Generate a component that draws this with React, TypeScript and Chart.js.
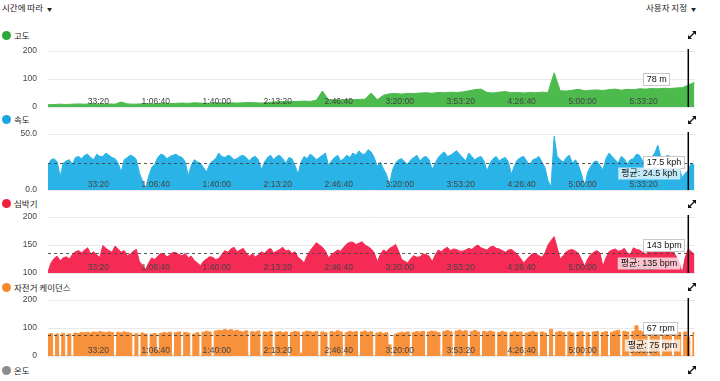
import React, { useEffect, useRef } from "react";
import { Chart, registerables } from "chart.js";

Chart.register(...registerables);

// ---------- data ----------
const X_MAX = 21220; // seconds shown
const CURSOR_T = 21000; // hovered time
const COARSE_STEP = 200; // seconds between altitude samples
const FINE_STEP = 100; // seconds between speed / heart-rate / cadence samples

const tickSeconds = [2000, 4000, 6000, 8000, 10000, 12000, 14000, 16000, 18000, 20000];
const tickLabels = ["33:20", "1:06:40", "1:40:00", "2:13:20", "2:46:40", "3:20:00", "3:53:20", "4:26:40", "5:00:00", "5:33:20"];

// altitude (m), every 200 s
const altitude = [
  8, 9, 10, 9, 10, 11, 10, 12, 11, 10,
  11, 10, 18, 11, 10, 11, 12, 11, 12, 13,
  12, 13, 14, 13, 15, 14, 13, 14, 15, 14,
  15, 14, 15, 16, 15, 14, 16, 18, 19, 20,
  19, 20, 21, 20, 24, 57, 25, 26, 25, 27,
  26, 27, 28, 50, 26, 42, 47, 48, 46, 49,
  48, 50, 51, 49, 52, 51, 53, 52, 54, 58,
  62, 64, 52, 50, 53, 55, 51, 52, 50, 52,
  51, 53, 52, 122, 58, 57, 60, 63, 58, 60,
  61, 59, 62, 64, 60, 63, 62, 65, 64, 66,
  65, 67, 66, 68, 69, 78, 88,
];

// speed (kph), every 100 s
const speed = [
  22, 27, 28, 25, 12, 24, 26, 27, 23, 29,
  30, 28, 31, 32, 29, 27, 32, 30, 30, 33,
  31, 29, 28, 24, 16, 27, 29, 31, 30, 27,
  15, 8, 1, 12, 20, 23, 29, 32, 31, 28,
  30, 31, 32, 30, 29, 25, 13, 22, 27, 25,
  24, 20, 16, 23, 26, 28, 33, 30, 29, 31,
  30, 27, 28, 30, 31, 29, 26, 29, 30, 27,
  18, 25, 29, 31, 27, 30, 31, 28, 24, 29,
  28, 22, 14, 25, 30, 28, 32, 30, 27, 29,
  31, 33, 22, 26, 29, 31, 26, 28, 31, 29,
  33, 31, 35, 32, 32, 36, 34, 29, 21, 25,
  19, 14, 5, 18, 24, 27, 28, 25, 23, 27,
  29, 31, 26, 29, 30, 27, 18, 24, 29, 32,
  34, 30, 31, 33, 35, 32, 29, 26, 33, 30,
  27, 29, 30, 26, 17, 24, 28, 30, 26, 28,
  29, 25, 14, 22, 27, 29, 30, 26, 22, 27,
  28, 30, 25, 20, 8, 3, 48, 30, 27, 25,
  29, 31, 24, 27, 22, 14, 3, 16, 21, 25,
  26, 22, 18, 28, 33, 30, 27, 24, 30, 28,
  23, 27, 28, 32, 31, 26, 25, 29, 29, 33,
  40, 29, 27, 31, 30, 27, 26, 20, 11, 15,
  17.5, 24, 22,
];

// heart rate (bpm), every 100 s
const heartRate = [
  102, 118, 126, 130, 122, 127, 129, 125, 133, 138,
  140, 136, 141, 145, 134, 138, 132, 128, 149, 144,
  140, 137, 148, 143, 137, 140, 131, 134, 139, 142,
  120, 114, 106, 118, 127, 124, 130, 135, 134, 129,
  132, 137, 136, 133, 131, 135, 127, 130, 122, 118,
  113, 121, 125, 129, 128, 124, 126, 133, 140, 137,
  143, 146, 138, 141, 144, 136, 130, 134, 129, 132,
  138, 135, 141, 144, 136, 139, 142, 146, 139, 141,
  135, 138, 128, 124, 118, 131, 140, 147, 154, 150,
  146, 139, 127, 133, 137, 141, 139, 146, 152, 155,
  155, 151, 153, 156, 150, 147, 143, 136, 120, 133,
  141, 138, 144, 147, 151, 139, 124, 121, 118, 126,
  131, 128, 129, 134, 133, 130, 120, 132, 141, 138,
  143, 146, 140, 143, 142, 139, 139, 141, 144, 142,
  147, 150, 145, 143, 141, 146, 148, 144, 143, 140,
  137, 141, 142, 138, 133, 126, 118, 124, 130, 135,
  134, 131, 128, 136, 150, 158, 165, 145, 125, 131,
  138, 141, 142, 139, 135, 124, 112, 125, 133, 137,
  140, 136, 112, 127, 138, 141, 143, 139, 140, 144,
  136, 133, 145, 142, 141, 137, 134, 138, 140, 143,
  144, 140, 137, 141, 142, 139, 130, 118, 100, 128,
  143, 138, 133,
];

// bike cadence (rpm), every 100 s
const cadence = [
  78, 80, 0, 79, 0, 81, 0, 79, 0, 82,
  80, 84, 83, 85, 82, 86, 84, 87, 85, 83,
  86, 84, 0, 85, 83, 86, 84, 82, 0, 80,
  0, 82, 79, 0, 78, 80, 20, 81, 84, 82,
  85, 0, 83, 86, 0, 84, 82, 0, 79, 83,
  0, 85, 88, 86, 0, 89, 92, 90, 95, 91,
  94, 89, 92, 88, 86, 90, 0, 87, 85, 89,
  0, 86, 84, 88, 0, 85, 87, 83, 86, 0,
  84, 88, 86, 10, 85, 89, 87, 84, 88, 0,
  86, 83, 0, 87, 85, 90, 86, 0, 84, 88,
  85, 87, 0, 86, 89, 84, 87, 0, 82, 85,
  80, 83, 40, 0, 78, 82, 85, 83, 86, 0,
  84, 87, 85, 88, 0, 86, 89, 87, 84, 0,
  88, 91, 87, 0, 89, 92, 88, 90, 0, 87,
  91, 86, 0, 88, 85, 89, 86, 0, 84, 88,
  85, 0, 83, 87, 84, 86, 0, 82, 85, 88,
  84, 0, 86, 82, 0, 95, 0, 85, 88, 84,
  0, 86, 82, 0, 85, 87, 0, 83, 0, 86,
  88, 0, 84, 87, 0, 85, 89, 92, 0, 88,
  86, 0, 88, 108, 90, 87, 85, 0, 84, 88,
  86, 0, 85, 89, 83, 0, 87, 84, 0, 86,
  67, 0, 84,
];

const speedAvg = 24.5;
const heartRateAvg = 135;
const cadenceAvg = 75;

// ---------- panel setup ----------
type PanelCfg = {
  key: string;
  values: number[];
  step: number;
  min: number;
  max: number;
  stepSize: number;
  decimals: number;
  color: string;
  stepped: boolean;
  valueText: string;
  avg: number | null;
  avgText: string | null;
  canvasTop: number;
};

const TICK_FONT = '"Liberation Sans", Arial, sans-serif';
const BOX_FONT = '9px "Liberation Sans", "Noto Sans CJK KR", Arial, sans-serif';

const panels: PanelCfg[] = [
  { key: "alt", values: altitude, step: COARSE_STEP, min: 0, max: 200, stepSize: 100, decimals: 0, color: "#4cba4c", stepped: false, valueText: "78 m", avg: null, avgText: null, canvasTop: 45 },
  { key: "spd", values: speed, step: FINE_STEP, min: 0, max: 50, stepSize: 50, decimals: 1, color: "#29b3e6", stepped: false, valueText: "17.5 kph", avg: speedAvg, avgText: "평균: 24.5 kph", canvasTop: 128 },
  { key: "hr", values: heartRate, step: FINE_STEP, min: 100, max: 200, stepSize: 50, decimals: 0, color: "#f52a55", stepped: false, valueText: "143 bpm", avg: heartRateAvg, avgText: "평균: 135 bpm", canvasTop: 211 },
  { key: "cad", values: cadence, step: FINE_STEP, min: 0, max: 200, stepSize: 100, decimals: 0, color: "#f7913c", stepped: true, valueText: "67 rpm", avg: cadenceAvg, avgText: "평균: 75 rpm", canvasTop: 294 },
];

const titles = [
  { text: "고도", dot: "#2fa83a", y: 35 },
  { text: "속도", dot: "#1aa6e2", y: 119.5 },
  { text: "심박기", dot: "#f0203d", y: 203.5 },
  { text: "자전거 케이던스", dot: "#f5892c", y: 287 },
  { text: "온도", dot: "#8c8c8c", y: 370 },
];

function makeOverlay(p: PanelCfg) {
  return {
    id: "overlay_" + p.key,
    afterDatasetsDraw(chart: any) {
      const { ctx, chartArea: a, scales } = chart;
      const xs = scales.x;
      const ys = scales.y;
      ctx.save();

      // average dashed line
      let avgY = 0;
      if (p.avg != null) {
        avgY = Math.round(ys.getPixelForValue(p.avg)) + 0.5;
        ctx.setLineDash([3, 3]);
        ctx.strokeStyle = "rgba(70,70,70,0.9)";
        ctx.lineWidth = 1;
        ctx.beginPath();
        ctx.moveTo(a.left, avgY);
        ctx.lineTo(a.right, avgY);
        ctx.stroke();
        ctx.setLineDash([]);
      }

      // time labels inside the plot
      ctx.font = "8.5px " + TICK_FONT;
      ctx.fillStyle = "#444";
      ctx.textAlign = "right";
      ctx.textBaseline = "middle";
      tickSeconds.forEach((s, i) => {
        ctx.fillText(tickLabels[i], xs.getPixelForValue(s), a.bottom - 5.5);
      });

      // cursor line
      const cx = xs.getPixelForValue(CURSOR_T);
      ctx.strokeStyle = "#000";
      ctx.lineWidth = 1.5;
      ctx.beginPath();
      ctx.moveTo(cx, a.top - 2);
      ctx.lineTo(cx, a.bottom);
      ctx.stroke();

      // value box
      ctx.font = BOX_FONT;
      ctx.textAlign = "left";
      const vw = ctx.measureText(p.valueText).width + 7;
      const vl = cx - 45;
      const vt = a.top + 22;
      ctx.fillStyle = "#fff";
      ctx.fillRect(vl, vt, vw, 13);
      ctx.strokeStyle = "rgba(0,0,0,0.22)";
      ctx.lineWidth = 1;
      ctx.strokeRect(Math.round(vl) + 0.5, vt + 0.5, Math.round(vw) - 1, 12);
      ctx.fillStyle = "#111";
      ctx.fillText(p.valueText, vl + 3.5, vt + 7);

      // average box
      if (p.avgText) {
        const aw = ctx.measureText(p.avgText).width + 6;
        const ar = cx - 8;
        const at = avgY + 4;
        ctx.fillStyle = "rgba(255,255,255,0.72)";
        ctx.fillRect(ar - aw, at, aw, 12);
        ctx.fillStyle = "#111";
        ctx.fillText(p.avgText, ar - aw + 3, at + 6.5);
      }
      ctx.restore();
    },
  };
}

function Panel({ p }: { p: PanelCfg }) {
  const ref = useRef<HTMLCanvasElement | null>(null);
  useEffect(() => {
    if (!ref.current) return;
    const pts = p.values.map((v, i) => ({ x: i * p.step, y: v }));
    const chart = new Chart(ref.current, {
      type: "line",
      data: {
        datasets: [
          {
            data: pts,
            fill: "start",
            backgroundColor: p.color,
            borderColor: p.color,
            borderWidth: 1,
            pointRadius: 0,
            tension: 0,
            stepped: p.stepped ? "middle" : false,
          },
        ],
      },
      options: {
        responsive: false,
        maintainAspectRatio: false,
        animation: false,
        events: [],
        layout: { padding: { top: 6, bottom: 6, left: 0, right: 25 } },
        plugins: { legend: { display: false }, tooltip: { enabled: false } },
        scales: {
          x: { type: "linear", min: 0, max: X_MAX, display: false },
          y: {
            min: p.min,
            max: p.max,
            ticks: {
              stepSize: p.stepSize,
              padding: 0,
              color: "#444",
              font: { size: 8.5, family: TICK_FONT },
              callback: (v: any) => (p.decimals ? Number(v).toFixed(p.decimals) : String(v)),
            },
            grid: {
              color: "#e9e9e9",
              drawTicks: true,
              tickLength: 11,
              tickColor: "rgba(0,0,0,0)",
              lineWidth: 1,
            },
            border: { display: false },
            afterFit: (s: any) => {
              s.width = 48;
            },
          },
        },
      } as any,
      plugins: [makeOverlay(p)],
    });
    return () => chart.destroy();
  }, [p]);
  return (
    <canvas
      ref={ref}
      width={720}
      height={68}
      style={{ position: "absolute", left: 0, top: p.canvasTop, width: 720, height: 68 }}
    />
  );
}

function ExpandIcon({ y }: { y: number }) {
  return (
    <svg width={10} height={10} viewBox="0 0 10 10" style={{ position: "absolute", left: 687, top: y - 5 }}>
      <line x1="2" y1="8" x2="8" y2="2" stroke="#111" strokeWidth="1.2" />
      <polygon points="5,1 9,1 9,5" fill="#111" />
      <polygon points="1,5 1,9 5,9" fill="#111" />
    </svg>
  );
}

const textStyle: React.CSSProperties = {
  position: "absolute",
  fontSize: 8.5,
  lineHeight: "12px",
  color: "#222",
  whiteSpace: "nowrap",
};

export default function App() {
  return (
    <div
      style={{
        position: "absolute",
        left: 0,
        top: 0,
        width: 720,
        height: 381,
        overflow: "hidden",
        background: "#fff",
        fontFamily: '"Noto Sans CJK KR", "Liberation Sans", sans-serif',
      }}
    >
      <div style={{ ...textStyle, left: 2, top: 1 }}>
        시간에 따라 <span style={{ fontSize: 5, marginLeft: 2, verticalAlign: "middle" }}>▼</span>
      </div>
      <div style={{ ...textStyle, left: 646, top: 1 }}>
        사용자 지정 <span style={{ fontSize: 5, marginLeft: 2, verticalAlign: "middle" }}>▼</span>
      </div>
      {titles.map((t) => (
        <React.Fragment key={t.text}>
          <div
            style={{
              position: "absolute",
              left: 2,
              top: t.y - 4.5,
              width: 9,
              height: 9,
              borderRadius: "50%",
              background: t.dot,
            }}
          />
          <div style={{ ...textStyle, left: 14, top: t.y - 6.5 }}>{t.text}</div>
          <ExpandIcon y={t.y} />
        </React.Fragment>
      ))}
      {panels.map((p) => (
        <Panel key={p.key} p={p} />
      ))}
    </div>
  );
}
